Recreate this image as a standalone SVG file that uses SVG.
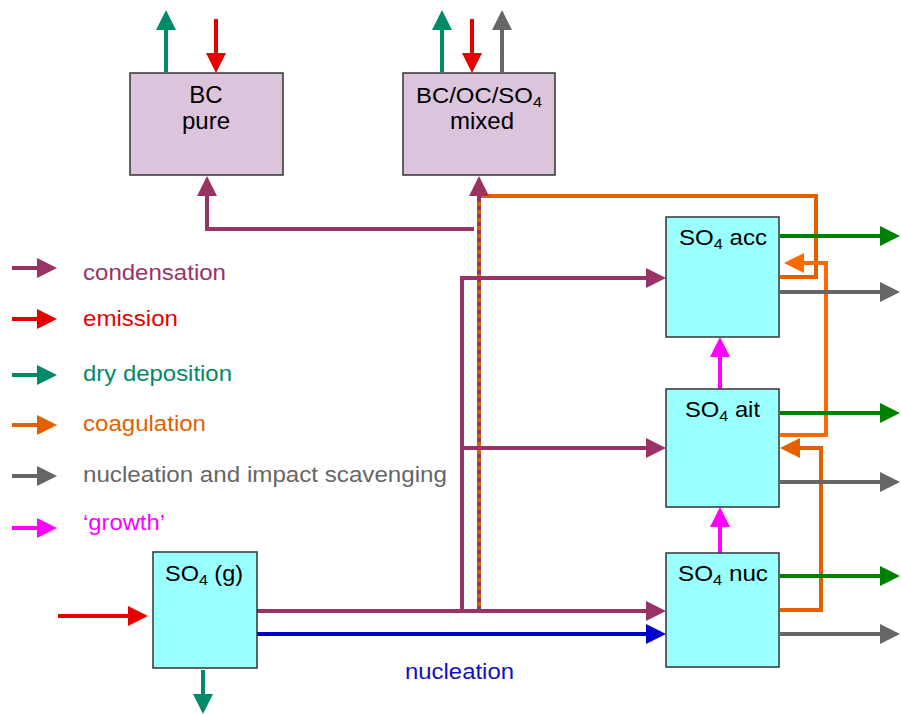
<svg xmlns="http://www.w3.org/2000/svg" width="901" height="714" viewBox="0 0 901 714">
<style>
text{font-family:"Liberation Sans",Arial,sans-serif;font-size:22px}
.box{stroke:#333;stroke-width:1.5}
.pk{fill:#dbc4dc}
.cy{fill:#99ffff}
.ln{fill:none;stroke-width:4}
.pu{stroke:#993366}.rd{stroke:#e60000}.tl{stroke:#008a68}.or{stroke:#e36000}.or2{stroke:#ff6a00}
.gy{stroke:#666}.mg{stroke:#ff00ff}.gr{stroke:#008000}.bl{stroke:#0000cc}
.c{text-anchor:middle;fill:#000}
.big{font-size:24px}
</style>
<defs>
<marker id="mpu" markerUnits="userSpaceOnUse" markerWidth="20" markerHeight="20" refX="1" refY="10" orient="auto"><path d="M0,0L20,10L0,20z" fill="#993366"/></marker>
<marker id="mrd" markerUnits="userSpaceOnUse" markerWidth="20" markerHeight="20" refX="1" refY="10" orient="auto"><path d="M0,0L20,10L0,20z" fill="#e60000"/></marker>
<marker id="mtl" markerUnits="userSpaceOnUse" markerWidth="20" markerHeight="20" refX="1" refY="10" orient="auto"><path d="M0,0L20,10L0,20z" fill="#008a68"/></marker>
<marker id="mor" markerUnits="userSpaceOnUse" markerWidth="20" markerHeight="20" refX="1" refY="10" orient="auto"><path d="M0,0L20,10L0,20z" fill="#e36000"/></marker>
<marker id="mor2" markerUnits="userSpaceOnUse" markerWidth="20" markerHeight="20" refX="1" refY="10" orient="auto"><path d="M0,0L20,10L0,20z" fill="#ff6a00"/></marker>
<marker id="mgy" markerUnits="userSpaceOnUse" markerWidth="20" markerHeight="20" refX="1" refY="10" orient="auto"><path d="M0,0L20,10L0,20z" fill="#666"/></marker>
<marker id="mmg" markerUnits="userSpaceOnUse" markerWidth="20" markerHeight="20" refX="1" refY="10" orient="auto"><path d="M0,0L20,10L0,20z" fill="#ff00ff"/></marker>
<marker id="mgr" markerUnits="userSpaceOnUse" markerWidth="20" markerHeight="20" refX="1" refY="10" orient="auto"><path d="M0,0L20,10L0,20z" fill="#008000"/></marker>
<marker id="mbl" markerUnits="userSpaceOnUse" markerWidth="20" markerHeight="20" refX="1" refY="10" orient="auto"><path d="M0,0L20,10L0,20z" fill="#0000cc"/></marker>
</defs>

<g id="connectors">
<path class="ln or" d="M780,277H816V196H479V611"/>
<path class="ln pu" d="M479,198V611" stroke-dasharray="4 4"/>
<path class="ln or2" d="M780,435H826V263H803" marker-end="url(#mor2)"/>
<path class="ln or" d="M780,610H821V448H799" marker-end="url(#mor)"/>
<path class="ln tl" d="M166,72V29" marker-end="url(#mtl)"/>
<path class="ln rd" d="M216,19V54" marker-end="url(#mrd)"/>
<path class="ln tl" d="M442,72V29" marker-end="url(#mtl)"/>
<path class="ln rd" d="M472,19V54" marker-end="url(#mrd)"/>
<path class="ln gy" d="M502,72V29" marker-end="url(#mgy)"/>
<path class="ln pu" d="M474,229H207V195" marker-end="url(#mpu)"/>
<path class="ln pu" d="M479,198V195" marker-end="url(#mpu)"/>
<path class="ln pu" d="M462,611V278H647" marker-end="url(#mpu)"/>
<path class="ln pu" d="M462,448H647" marker-end="url(#mpu)"/>
<path class="ln pu" d="M257,611H647" marker-end="url(#mpu)"/>
<path class="ln bl" d="M257,634H647" marker-end="url(#mbl)"/>
<path class="ln rd" d="M58,616H129" marker-end="url(#mrd)"/>
<path class="ln tl" d="M203,670V695" marker-end="url(#mtl)"/>
<path class="ln mg" d="M720,389V356" marker-end="url(#mmg)"/>
<path class="ln mg" d="M720,553V526" marker-end="url(#mmg)"/>
<path class="ln gr" d="M780,236H881" marker-end="url(#mgr)"/>
<path class="ln gy" d="M780,292H881" marker-end="url(#mgy)"/>
<path class="ln gr" d="M780,413H881" marker-end="url(#mgr)"/>
<path class="ln gy" d="M780,482H881" marker-end="url(#mgy)"/>
<path class="ln gr" d="M780,576H881" marker-end="url(#mgr)"/>
<path class="ln gy" d="M780,634H881" marker-end="url(#mgy)"/>
</g>

<g id="bc-pure">
<rect class="box pk" x="130" y="73" width="153" height="102"/>
<text class="c big" x="206" y="103">BC</text>
<text class="c big" x="206" y="129">pure</text>
</g>
<g id="bc-mixed">
<rect class="box pk" x="403" y="73" width="152" height="102"/>
<text x="416" y="103" textLength="126" lengthAdjust="spacingAndGlyphs">BC/OC/SO<tspan font-size="15" dy="4">4</tspan></text>
<text class="c big" x="482" y="129">mixed</text>
</g>
<g id="so4-acc">
<rect class="box cy" x="666" y="217" width="113" height="120"/>
<text x="679" y="245" textLength="88" lengthAdjust="spacingAndGlyphs">SO<tspan font-size="15" dy="4">4</tspan><tspan dy="-4"> acc</tspan></text>
</g>
<g id="so4-ait">
<rect class="box cy" x="666" y="389" width="113" height="118"/>
<text x="685" y="417" textLength="75" lengthAdjust="spacingAndGlyphs">SO<tspan font-size="15" dy="4">4</tspan><tspan dy="-4"> ait</tspan></text>
</g>
<g id="so4-nuc">
<rect class="box cy" x="666" y="553" width="113" height="114"/>
<text x="678" y="581" textLength="90" lengthAdjust="spacingAndGlyphs">SO<tspan font-size="15" dy="4">4</tspan><tspan dy="-4"> nuc</tspan></text>
</g>
<g id="so4-g">
<rect class="box cy" x="153" y="552" width="104" height="116"/>
<text x="165" y="581" textLength="78" lengthAdjust="spacingAndGlyphs">SO<tspan font-size="15" dy="4">4</tspan><tspan dy="-4"> (g)</tspan></text>
</g>
<g id="nucleation-label">
<text x="405" y="679" fill="#1010c0" textLength="109" lengthAdjust="spacingAndGlyphs">nucleation</text>
</g>

<g id="legend">
<path class="ln pu" d="M12,268H38" marker-end="url(#mpu)"/>
<text x="83" y="280" fill="#993366" textLength="143" lengthAdjust="spacingAndGlyphs">condensation</text>
<path class="ln rd" d="M12,319H38" marker-end="url(#mrd)"/>
<text x="83" y="326" fill="#e60000" textLength="95" lengthAdjust="spacingAndGlyphs">emission</text>
<path class="ln tl" d="M12,375H38" marker-end="url(#mtl)"/>
<text x="83" y="381" fill="#008a68" textLength="149" lengthAdjust="spacingAndGlyphs">dry deposition</text>
<path class="ln or" d="M12,425H38" marker-end="url(#mor)"/>
<text x="83" y="431" fill="#e36000" textLength="123" lengthAdjust="spacingAndGlyphs">coagulation</text>
<path class="ln gy" d="M12,476H38" marker-end="url(#mgy)"/>
<text x="83" y="482" fill="#666" textLength="364" lengthAdjust="spacingAndGlyphs">nucleation and impact scavenging</text>
<path class="ln mg" d="M12,528H38" marker-end="url(#mmg)"/>
<text x="83" y="530" fill="#ff00ff" textLength="82" lengthAdjust="spacingAndGlyphs">‘growth’</text>
</g>
</svg>
